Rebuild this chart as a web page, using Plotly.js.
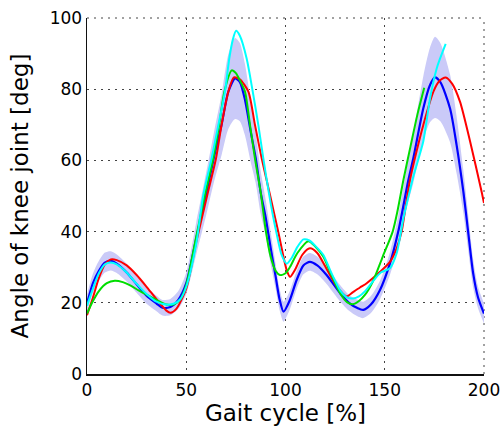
<!DOCTYPE html>
<html>
<head>
<meta charset="utf-8">
<script src="https://cdn.plot.ly/plotly-3.0.1.min.js"></script>
<style>html,body{margin:0;padding:0;background:#fff;}#chart{width:501px;height:428px;}</style>
</head>
<body>
<div id="chart"></div>
<script>
// Mean (blue) curve with its spread band
const blueX = [0,3,6,9,12,15,20,25,30,35,38,42,46,50,55,60,64,67.8,71.2,74.6,77,79.6,82.5,85,87.5,90,92.5,95,97,99,102,105.6,109,112.3,116,120.7,127.5,132,136,139.2,143,147.6,152.6,156.8,161.9,164.4,169.4,172.8,175.3,178,182.9,186.2,189.6,192,194.5,197,200];
const blueY = [19.8,25.5,29,31.3,31.8,31,28.5,25.2,22,19.8,18.6,18.8,20.8,25.5,38,50.5,61,70,79.3,83,82,77,68,60.6,51,44,35.5,27.5,21,17.5,20.5,26.4,30.5,31.5,30.5,27.8,22.7,20,18.6,18,19.5,23.6,31,40,54.5,60.6,74.6,81.2,83.3,82,74.6,64.3,51.2,40,28.4,21.5,17];
const blueSd = [2.5,2.7,2.8,2.8,2.7,2.6,2.5,2.4,2.3,2.2,2.2,2.3,2.5,3,4.5,6,7,8.5,10.5,11.4,11,10,8.5,7,6,5,4.5,3.5,3,2.8,2.6,2.5,2.5,2.5,2.5,2.5,2.3,2.2,2.3,2.3,2.4,2.6,3.2,4.5,6,7,9,10.5,11.4,11,9.5,8,6,5,4,3,2.8];

const redX = [0,3,6,9,12,15,20,25,30,35,40,42,45,50,55,60.6,65,67.8,71.2,74,77,81.3,84.6,88,92.2,96.4,100.6,102.3,105,108.5,112.3,116,121.5,126,130.8,134,137.5,140.9,147.6,152.6,156,158.5,160.5,162.7,166,169.4,174.5,177.5,180.7,184,187.9,193,198.8,200];
const redY = [16.5,21.5,27,30.8,32.2,32,30.5,27.8,24.5,21,17.8,17.2,18.3,24,37,50.3,60.6,70,79.3,83.3,82.8,79.3,70,60.6,50.3,39.8,29.2,27.3,29.5,33.5,35.3,34,28.7,24.5,21.8,23,24.3,25.5,28.7,31.5,35.3,40,47,54.5,62.5,69.9,79.3,82.3,83.3,81.5,76.5,65.3,51.2,48];

const greenX = [0,3,6,10,14,18,22,26,30,35,40,44,47,50,55,59.4,63.6,66.6,69.2,72.9,75,77,79.6,82.1,84.6,87.5,90,92.5,95,97.2,100,102.3,106,111.5,115,119,123,127.5,131,134,137,140,144,149,154,156.5,159.4,163,166.5,169.9];
const greenY = [17,20.5,23.3,25.5,26.2,25.8,24.8,23.5,22.3,20.8,19.5,19.6,21,25,38.5,50.3,60.6,70,79.3,85.3,84.5,82.5,79.3,70,60.6,51,40.5,33,29,27.8,28.3,30.1,34,37.3,35.8,33,28,22.7,20.2,19.6,20.5,22.2,26,33,40,46,54.5,64,73,80.4];

const cyanX = [0,3,6,9,12,15,20,25,30,35,40,44,47,50,55,58.6,62.8,66.2,69.5,71.7,73.5,75.1,77,80.4,83.5,86.3,88.8,91.8,93.5,95.5,98,100.6,103,106,109,112,115,119,123,127.5,131,134,137,140,144,148,152.6,156,159.5,162,164.4,169.4,172.8,176.2,180.7];
const cyanY = [19.2,24,28.3,30.8,31.3,30.8,28.5,25.3,22.5,20.3,19.5,19.8,21,24.5,36.5,50.3,60.6,70,79.3,88.7,94,96.4,95,88.7,79.3,70,60.6,50.3,45,39.5,33.5,31,32.5,35.7,37.8,37.5,36,33.5,28.5,23.5,21.5,21.2,21.8,23.2,26,28.5,29.7,33.9,44,50,55.5,65.3,77.4,85.9,92.7];

const xTicks = [0,50,100,150,200];
const yTicks = [0,20,40,60,80,100];

const bandLow = blueY.map((v,i)=>v-blueSd[i]);
const bandHigh = blueY.map((v,i)=>v+blueSd[i]);

const sp = {shape:'spline', smoothing:0.7};
const traces = [
  {x: blueX, y: bandLow, mode:'lines', line:{width:0, ...sp}, hoverinfo:'skip', showlegend:false},
  {x: blueX, y: bandHigh, mode:'lines', line:{width:0, ...sp}, fill:'tonexty', fillcolor:'rgb(202,202,248)', hoverinfo:'skip', showlegend:false},
  {x: blueX, y: blueY, mode:'lines', line:{color:'#0000ff', width:2.2, ...sp}, showlegend:false},
  {x: redX, y: redY, mode:'lines', line:{color:'#ff0000', width:2, ...sp}, showlegend:false},
  {x: greenX, y: greenY, mode:'lines', line:{color:'#00dd00', width:2, ...sp}, showlegend:false},
  {x: cyanX, y: cyanY, mode:'lines', line:{color:'#00ffff', width:2, ...sp}, showlegend:false}
];

const fontFam = 'DejaVu Sans, Verdana, sans-serif';
const gridDash = '2px,5px';
const gridCol = '#444';
const layout = {
  width: 501, height: 428,
  margin: {l:87, r:17, t:18, b:54, pad:0},
  paper_bgcolor:'#fff', plot_bgcolor:'#fff',
  showlegend:false,
  font:{family:fontFam, color:'#000'},
  shapes: [
    {type:'line', xref:'paper', yref:'paper', x0:0, x1:1, y0:1, y1:1, line:{color:gridCol, width:1, dash:gridDash}, layer:'below'},
    {type:'line', xref:'paper', yref:'paper', x0:1, x1:1, y0:0, y1:1, line:{color:gridCol, width:1, dash:gridDash}, layer:'below'}
  ],
  xaxis: {
    range:[0,200], tickvals:xTicks, ticktext:xTicks.map(String),
    showgrid:true, gridcolor:gridCol, gridwidth:1, griddash:gridDash,
    showline:true, linecolor:'#111', linewidth:1.5, mirror:false,
    ticks:'', zeroline:false,
    tickfont:{size:17, family:fontFam, color:'#000'},
    title:{text:'Gait cycle [%]', font:{size:23, family:fontFam, color:'#000'}, standoff:4}
  },
  yaxis: {
    range:[0,100], tickvals:yTicks, ticktext:yTicks.map(String),
    showgrid:true, gridcolor:gridCol, gridwidth:1, griddash:gridDash,
    showline:true, linecolor:'#111', linewidth:1.5, mirror:false,
    ticks:'', zeroline:false,
    tickfont:{size:17, family:fontFam, color:'#000'},
    title:{text:'Angle of knee joint [deg]', font:{size:23, family:fontFam, color:'#000'}, standoff:14}
  }
};
Plotly.newPlot('chart', traces, layout, {displayModeBar:false, staticPlot:true});
</script>
</body>
</html>
